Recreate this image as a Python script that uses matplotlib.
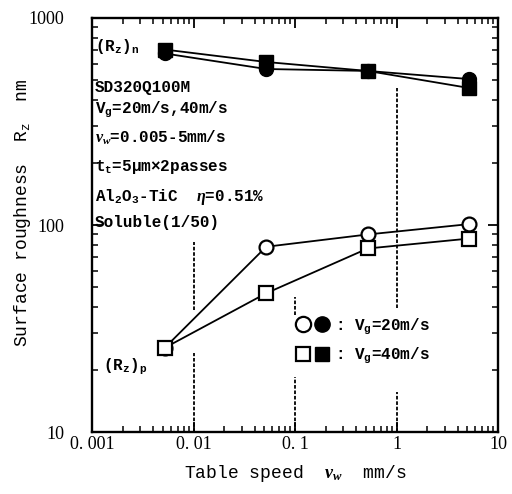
import matplotlib
matplotlib.use("Agg")
import matplotlib.pyplot as plt
from matplotlib.ticker import FixedLocator, FixedFormatter, LogLocator, NullFormatter
from matplotlib.legend_handler import HandlerTuple
from matplotlib.lines import Line2D

# Table speed (mm/s)
table_speed = [0.0052, 0.052, 0.52, 5.2]
# Peak-to-valley roughness at the end of the process, (Rz)p
rzp_20 = [25.5, 78.5, 90, 101]
rzp_40 = [25.5, 46.8, 77, 86]
# Roughness of the pre-ground surface, (Rz)n
rzn_20 = [674, 567, 555, 507]
rzn_40 = [704, 613, 555, 459]

x_ticks = [0.001, 0.01, 0.1, 1, 10]
x_tick_labels = ["0. 001", "0. 01", "0. 1", "1", "10"]
y_ticks = [10, 100, 1000]
y_tick_labels = ["10", "100", "1000"]

MONO = "Liberation Mono"
SERIF = "Liberation Serif"
plt.rcParams["font.family"] = [MONO, "DejaVu Sans"]
plt.rcParams["mathtext.fontset"] = "custom"
plt.rcParams["mathtext.rm"] = MONO + ":bold"
plt.rcParams["mathtext.it"] = SERIF + ":italic:bold"
plt.rcParams["mathtext.default"] = "regular"

fig = plt.figure(figsize=(5.12, 4.94), dpi=100)
ax = fig.add_axes([92 / 512, 1 - 432 / 494, 406 / 512, 414 / 494])
ax.set_xscale("log")
ax.set_yscale("log")
ax.set_xlim(0.001, 10)
ax.set_ylim(10, 1000)

# dotted reference lines at the decades, broken where they would cross marks/text
dots = dict(color="black", lw=1.3, ls=(0, (2, 1)))
ax.axvline(0.01, 0.295, 0.459, **dots)
ax.axvline(0.01, 0.0, 0.191, **dots)
ax.axvline(0.1, 0.283, 0.326, **dots)
ax.axvline(0.1, 0.0, 0.133, **dots)
ax.axvline(1, 0.300, 0.831, **dots)
ax.axvline(1, 0.0, 0.097, **dots)

lw = 1.3
ax.plot(table_speed, rzp_20, color="black", lw=lw, marker="o", ms=10,
        mfc="white", mec="black", mew=1.6, zorder=3)
ax.plot(table_speed, rzp_40, color="black", lw=lw, marker="s", ms=9.5,
        mfc="white", mec="black", mew=1.6, zorder=3)
ax.plot(table_speed, rzn_20, color="black", lw=lw, marker="o", ms=10,
        mfc="black", mec="black", zorder=3)
ax.plot(table_speed, rzn_40, color="black", lw=lw, marker="s", ms=9.5,
        mfc="black", mec="black", zorder=3)

# axes frame and ticks
for s in ax.spines.values():
    s.set_linewidth(1.7)
ax.xaxis.set_major_locator(FixedLocator(x_ticks))
ax.xaxis.set_major_formatter(FixedFormatter(x_tick_labels))
ax.yaxis.set_major_locator(FixedLocator(y_ticks))
ax.yaxis.set_major_formatter(FixedFormatter(y_tick_labels))
ax.xaxis.set_minor_locator(LogLocator(base=10, subs=range(2, 10), numticks=20))
ax.yaxis.set_minor_locator(LogLocator(base=10, subs=range(2, 10), numticks=20))
ax.xaxis.set_minor_formatter(NullFormatter())
ax.yaxis.set_minor_formatter(NullFormatter())
ax.tick_params(which="both", direction="in", top=True, right=True, color="black")
ax.tick_params(which="major", length=7, width=1.3)
ax.tick_params(which="minor", length=4, width=1.1)
ax.tick_params(axis="x", which="major", pad=3)
ax.tick_params(axis="y", which="major", pad=20)
for lab in ax.get_xticklabels() + ax.get_yticklabels():
    lab.set_fontfamily(SERIF)
    lab.set_fontsize(13)

ax.set_xlabel(r"Table speed  $\it{\nu}_{w}$  mm/s", fontsize=13, labelpad=7)
ax.set_ylabel(r"Surface roughness  R$_{z}$  nm", fontsize=13)
ax.yaxis.set_label_coords(-0.145, 0.53)

# condition notes
note_kw = dict(transform=ax.transAxes, fontsize=11.5, ha="left", va="center",
               fontweight="bold")
ax.text(0.007, 0.930, r"(R$_{z}$)$_{n}$", **note_kw)
ax.text(0.007, 0.831, "SD320Q100M", **note_kw)
ax.text(0.007, 0.778, r"V$_{g}$=20m/s,40m/s", **note_kw)
ax.text(0.007, 0.710, r"$\it{\nu}_{w}$=0.005-5mm/s", **note_kw)
ax.text(0.007, 0.640, "t$_{t}$=5μm×2passes", **note_kw)
ax.text(0.007, 0.568, r"Al$_{2}$O$_{3}$-TiC  $\it{\eta}$=0.51%", **note_kw)
ax.text(0.007, 0.505, "Soluble(1/50)", **note_kw)
ax.text(0.027, 0.157, r"(R$_{z}$)$_{p}$", **note_kw)

# legend: open/filled pairs for each wheel speed
h20 = (Line2D([], [], ls="none", marker="o", ms=11, mfc="white", mec="black", mew=1.6),
       Line2D([], [], ls="none", marker="o", ms=11, mfc="black", mec="black"))
h40 = (Line2D([], [], ls="none", marker="s", ms=10.5, mfc="white", mec="black", mew=1.6),
       Line2D([], [], ls="none", marker="s", ms=10.5, mfc="black", mec="black"))
ax.legend([h20, h40], [r": V$_{g}$=20m/s", r": V$_{g}$=40m/s"],
          handler_map={tuple: HandlerTuple(ndivide=None, pad=0.2)},
          loc="upper left", bbox_to_anchor=(0.5, 0.28), frameon=False,
          prop={"size": 11.5, "weight": "bold"}, handlelength=2.2,
          handletextpad=0.3, labelspacing=0.55, borderaxespad=0, borderpad=0)

fig.savefig("out.png", dpi=100)
